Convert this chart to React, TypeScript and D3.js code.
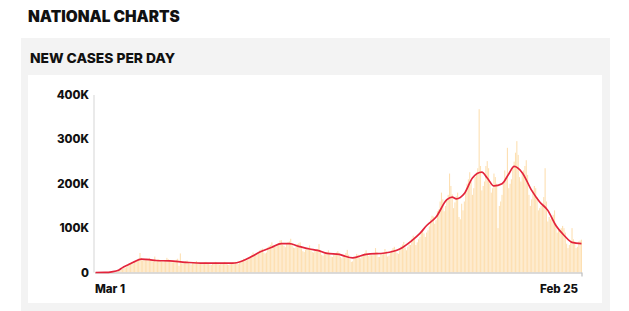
import React from "react";
import * as d3 from "d3";

// daily new cases (thousands), day 0 = Mar 1 2020 ... day 361 = Feb 25 2021
const dailyCases: number[] = [
  0, 0, 0.1, 0.1, 0.1, 0.2, 0.2,
  0.2, 0.3, 0.3, 0.5, 0.5, 0.7, 0.8,
  1, 1.5, 2, 3.5, 5, 7, 8,
  10, 11, 12, 15, 18, 21, 24,
  21, 22, 25, 28, 30, 44, 33,
  27, 29, 30, 31, 31, 33, 30,
  26, 25, 36, 27, 29, 30, 27,
  25, 25, 26, 28, 33, 30, 27,
  24, 23, 25, 26, 29, 31, 15,
  43, 21, 22, 24, 26, 27, 24,
  20, 18, 21, 22, 24, 26, 23,
  19, 19, 20, 22, 23, 24, 22,
  19, 18, 17, 20, 22, 24, 23,
  19, 18, 20, 21, 22, 24, 22,
  18, 17, 19, 21, 23, 24, 24,
  20, 19, 22, 25, 28, 31, 30,
  27, 28, 33, 36, 40, 45, 42,
  40, 41, 44, 50, 52, 54, 45,
  43, 45, 57, 60, 62, 68, 60,
  58, 60, 63, 66, 72, 73, 63,
  60, 57, 64, 68, 70, 76, 64,
  56, 55, 60, 64, 66, 68, 58,
  48, 46, 52, 54, 56, 61, 53,
  46, 45, 50, 52, 52, 64, 50,
  40, 38, 42, 45, 46, 50, 44,
  36, 35, 40, 43, 45, 48, 44,
  35, 32, 40, 40, 44, 51, 40,
  30, 24, 25, 33, 36, 42, 40,
  34, 32, 38, 39, 44, 50, 42,
  37, 40, 39, 39, 44, 55, 46,
  35, 35, 42, 41, 44, 53, 48,
  36, 38, 44, 50, 55, 58, 50,
  44, 42, 52, 59, 63, 69, 56,
  50, 58, 63, 62, 76, 83, 79,
  62, 68, 75, 80, 90, 98, 88,
  80, 90, 95, 104, 120, 128, 126,
  110, 118, 138, 142, 160, 180, 165,
  138, 150, 162, 175, 223, 195, 176,
  145, 158, 172, 180, 125, 120, 155,
  140, 160, 180, 200, 210, 226, 205,
  175, 190, 215, 225, 235, 368, 240,
  185, 195, 205, 240, 251, 235, 200,
  180, 190, 223, 215, 200, 100, 150,
  160, 175, 200, 230, 210, 281, 190,
  200, 210, 235, 250, 270, 296, 265,
  215, 205, 225, 230, 240, 253, 220,
  175, 150, 165, 185, 195, 190, 170,
  140, 145, 150, 155, 170, 235, 160,
  115, 125, 120, 125, 130, 140, 110,
  90, 95, 95, 100, 105, 100, 90,
  65, 55, 62, 70, 100, 75, 70,
  55, 58, 70, 72, 74,
];

// 7-day average: day index and value (thousands)
const avgDays: number[] = [0, 7, 12, 17, 20, 24, 28, 34, 40, 45, 55, 67, 80, 92, 102, 109, 116, 122, 131, 138, 144, 151, 159, 165, 172, 181, 184, 191, 201, 215, 226, 235, 241, 246, 253, 261, 265, 268, 274, 280, 287, 291, 296, 302, 307, 311, 317, 324, 330, 336, 342, 348, 354, 361];
const avgValues: number[] = [0, 0.2, 1.5, 5, 11, 17, 23, 30, 29, 27, 26, 23, 21, 21, 21, 26, 36, 46, 57, 65, 65, 59, 53, 50, 43, 41, 38, 33, 41, 44, 53, 72, 88, 106, 125, 164, 170, 166, 178, 213, 226, 213, 195, 200, 222, 239, 225, 185, 159, 140, 106, 84, 68, 65];

const yTicks: number[] = [0, 100, 200, 300, 400];
const yTickLabels: string[] = ["0", "100K", "200K", "300K", "400K"];
const xLabels: string[] = ["Mar 1", "Feb 25"];

const W = 629;
const H = 311;
const left = 95;
const right = 582;
const top = 95;
const bottom = 272.5;

export default function App() {
  const x = d3
    .scaleBand<number>()
    .domain(d3.range(dailyCases.length))
    .range([left, right])
    .paddingInner(0.18)
    .paddingOuter(0);
  const y = d3.scaleLinear().domain([0, 400]).range([bottom, top]);
  const xc = (d: number) => (x(d) as number) + x.bandwidth() / 2;

  const line = d3
    .line<number>()
    .x((_, i) => xc(avgDays[i]))
    .y((d) => y(d))
    .curve(d3.curveMonotoneX);

  const font = "Inter, Lato, 'Noto Sans', sans-serif";

  return (
    <svg
      width={W}
      height={H}
      style={{ position: "absolute", left: 0, top: 0 }}
      fontFamily={font}
    >
      <rect x={0} y={0} width={W} height={H} fill="#fff" />
      <text x={28} y={22} fontSize={15.4} fontWeight={900} fill="#111">
        NATIONAL CHARTS
      </text>
      <rect x={21} y={38} width={589} height={H - 38} fill="#f3f3f3" />
      <text x={30} y={63} fontSize={13.8} fontWeight={800} fill="#111">
        NEW CASES PER DAY
      </text>
      <rect x={28} y={75} width={574} height={228} fill="#fff" />

      {dailyCases.map((v, i) => (
        <rect
          key={i}
          x={x(i)}
          y={y(v)}
          width={x.bandwidth()}
          height={bottom - y(v)}
          fill="#fde0b3"
        />
      ))}

      <line x1={left - 1} x2={left - 1} y1={top} y2={bottom} stroke="#dcdcdc" strokeWidth={1.2} />
      <line x1={left} x2={right} y1={bottom + 0.5} y2={bottom + 0.5} stroke="#cfcfcf" strokeWidth={1.6} />
      <line x1={right} x2={right} y1={bottom} y2={bottom + 4} stroke="#bdbdbd" strokeWidth={1.2} />

      <path d={line(avgValues) ?? ""} fill="none" stroke="#e3243b" strokeWidth={1.7} />

      {yTicks.map((t, i) => (
        <text
          key={t}
          x={89}
          y={y(t)}
          dy="0.35em"
          textAnchor="end"
          fontSize={11.5}
          fontWeight={800}
          fill="#111"
        >
          {yTickLabels[i]}
        </text>
      ))}

      <text x={left} y={293} fontSize={11.5} fontWeight={800} fill="#111">
        {xLabels[0]}
      </text>
      <text x={578} y={293} textAnchor="end" fontSize={11.5} fontWeight={800} fill="#111">
        {xLabels[1]}
      </text>
    </svg>
  );
}
